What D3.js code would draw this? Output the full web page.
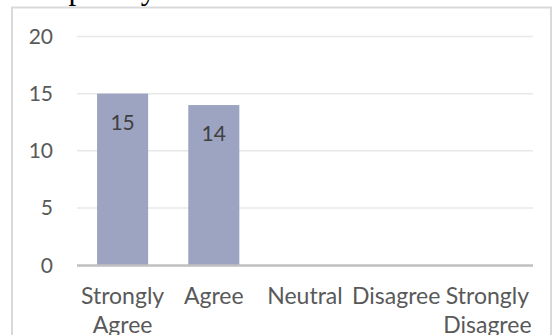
<!DOCTYPE html>
<html>
<head>
<meta charset="utf-8">
<script src="https://cdn.jsdelivr.net/npm/d3@7"></script>
<style>
  body { margin: 0; background: #fff; }
  svg { display: block; }
</style>
</head>
<body>
<svg id="chart" width="553" height="335"></svg>
<script>
const categories = [['Strongly', 'Agree'], ['Agree'], ['Neutral'], ['Disagree'], ['Strongly', 'Disagree']];
const values = [15, 14, 0, 0, 0];
const yTicks = [0, 5, 10, 15, 20];

const svg = d3.select("#chart");
const font = "Lato, 'Open Sans', sans-serif";

// title text cut off at the top of the picture
svg.append("text")
   .attr("x", 10)
   .attr("y", -1)
   .attr("font-family", "'Liberation Serif', 'DejaVu Serif', serif")
   .attr("font-size", 31)
   .attr("fill", "#000")
   .text("disciplinary.");

// chart border
svg.append("rect")
   .attr("x", 12)
   .attr("y", 7.5)
   .attr("width", 539)
   .attr("height", 340)
   .attr("fill", "none")
   .attr("stroke", "#d9d9d9")
   .attr("stroke-width", 2);

const xScale = d3.scaleBand()
                .domain(d3.range(categories.length))
                .range([77, 533])
                .paddingInner(0.44)
                .paddingOuter(0.22);

const yScale = d3.scaleLinear()
                .domain([0, 20])
                .range([265, 36.5]);

// gridlines
svg.selectAll("line.grid")
   .data(yTicks.filter(d => d > 0))
   .enter().append("line")
   .attr("class", "grid")
   .attr("x1", 77)
   .attr("x2", 533)
   .attr("y1", d => yScale(d))
   .attr("y2", d => yScale(d))
   .attr("stroke", "#e8e8e8")
   .attr("stroke-width", 1.5);

// y tick labels
svg.selectAll("text.ytick")
   .data(yTicks)
   .enter().append("text")
   .attr("class", "ytick")
   .attr("x", 53)
   .attr("y", d => yScale(d))
   .attr("dy", "0.36em")
   .attr("text-anchor", "end")
   .attr("font-family", font)
   .attr("font-size", 21)
   .attr("fill", "#595959")
   .text(d => d);

// bars
svg.selectAll("rect.bar")
   .data(values)
   .enter().append("rect")
   .attr("class", "bar")
   .attr("x", (d, i) => xScale(i))
   .attr("y", d => yScale(d))
   .attr("width", xScale.bandwidth())
   .attr("height", d => yScale(0) - yScale(d))
   .attr("fill", "#9ca4c2");

// data labels
svg.selectAll("text.val")
   .data(values)
   .enter().filter(d => d > 0).append("text")
   .attr("class", "val")
   .attr("x", (d, i) => xScale(i) + xScale.bandwidth() / 2)
   .attr("y", d => yScale(d) + 36)
   .attr("text-anchor", "middle")
   .attr("font-family", font)
   .attr("font-size", 21)
   .attr("fill", "#404040")
   .text(d => d);

// x axis line
svg.append("line")
   .attr("x1", 77)
   .attr("x2", 533)
   .attr("y1", yScale(0) + 0.5)
   .attr("y2", yScale(0) + 0.5)
   .attr("stroke", "#bfbfbf")
   .attr("stroke-width", 2.5);

// category labels
const cat = svg.selectAll("text.cat")
   .data(categories)
   .enter().append("text")
   .attr("class", "cat")
   .attr("x", (d, i) => xScale(i) + xScale.bandwidth() / 2)
   .attr("y", 304)
   .attr("text-anchor", "middle")
   .attr("font-family", font)
   .attr("font-size", 23)
   .attr("fill", "#595959");

cat.selectAll("tspan")
   .data(d => d)
   .enter().append("tspan")
   .attr("x", function() { return d3.select(this.parentNode).attr("x"); })
   .attr("dy", (d, i) => i === 0 ? 0 : 28.5)
   .text(d => d);
</script>
</body>
</html>
